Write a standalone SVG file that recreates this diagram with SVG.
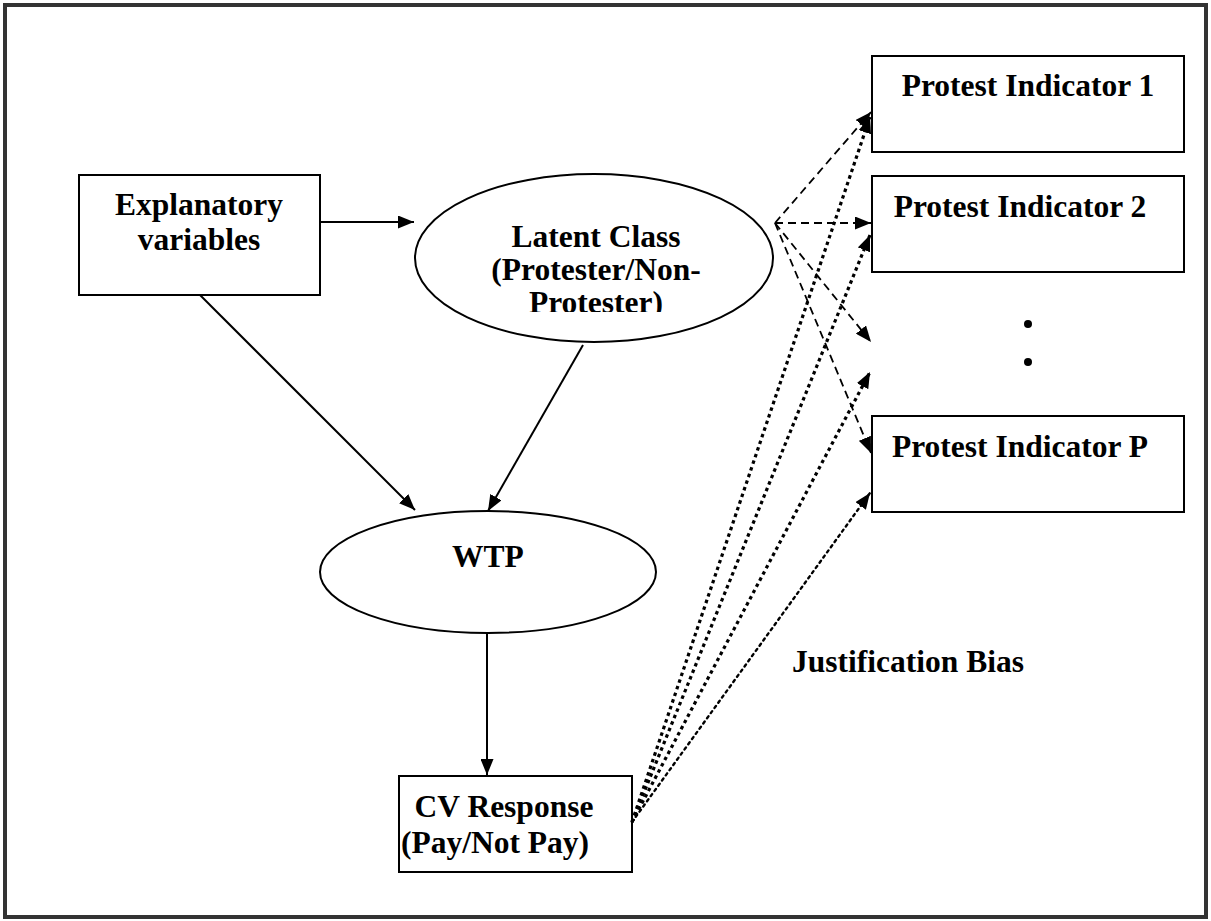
<svg xmlns="http://www.w3.org/2000/svg" width="1211" height="921" viewBox="0 0 1211 921">
<style>
.box{fill:#fff;stroke:#000;stroke-width:2}
.t{font-family:"Liberation Serif","Times New Roman",serif;font-weight:bold;font-size:31.5px;fill:#000;text-anchor:middle}
.solid{stroke:#000;stroke-width:2;fill:none}
.dash{stroke:#000;stroke-width:1.8;fill:none;stroke-dasharray:8 5}
.dot{stroke:#000;stroke-width:3.2;fill:none;stroke-dasharray:3.5 3.5}
.dot2{stroke:#000;stroke-width:2.4;fill:none;stroke-dasharray:2.4 4;stroke-linecap:round}
</style>
<defs>
<marker id="ah" viewBox="0 0 16 13" refX="16" refY="6.5" markerWidth="16" markerHeight="13" markerUnits="userSpaceOnUse" orient="auto">
<path d="M0,0 L16,6.5 L0,13 Z" fill="#000"/>
</marker>
<clipPath id="lcclip"><rect x="400" y="170" width="400" height="142"/></clipPath>
</defs>
<rect x="5" y="5" width="1201" height="912" fill="#fff" stroke="#333" stroke-width="4"/>

<g id="explanatory">
<rect class="box" x="79" y="175" width="241" height="120"/>
<text class="t" x="199" y="215">Explanatory</text>
<text class="t" x="199" y="250">variables</text>
</g>

<g id="latent">
<ellipse class="box" cx="594" cy="258" rx="179" ry="84"/>
<g clip-path="url(#lcclip)">
<text class="t" x="596" y="247">Latent Class</text>
<text class="t" x="596" y="280">(Protester/Non-</text>
<text class="t" x="596" y="313">Protester)</text>
</g>
</g>

<g id="wtp">
<ellipse class="box" cx="488" cy="572" rx="168" ry="61"/>
<text class="t" x="488" y="567">WTP</text>
</g>

<g id="cv">
<rect class="box" x="399" y="776" width="233" height="96"/>
<text class="t" x="504" y="817">CV Response</text>
<text class="t" x="495" y="853">(Pay/Not Pay)</text>
</g>

<g id="pi1">
<rect class="box" x="872" y="56" width="312" height="96"/>
<text class="t" x="1028" y="96">Protest Indicator 1</text>
</g>

<g id="pi2">
<rect class="box" x="872" y="176" width="312" height="96"/>
<text class="t" x="1020" y="217">Protest Indicator 2</text>
</g>

<g id="ellipsis">
<circle cx="1028" cy="324" r="4" fill="#000"/>
<circle cx="1028" cy="362" r="4" fill="#000"/>
</g>

<g id="pip">
<rect class="box" x="872" y="416" width="312" height="96"/>
<text class="t" x="1020" y="457">Protest Indicator P</text>
</g>

<g id="label-bias">
<text class="t" x="908" y="672">Justification Bias</text>
</g>

<g id="connectors">
<line class="solid" x1="320" y1="222" x2="414" y2="222" marker-end="url(#ah)"/>
<line class="solid" x1="200" y1="295" x2="415" y2="510" marker-end="url(#ah)"/>
<line class="solid" x1="583" y1="345" x2="488" y2="511" marker-end="url(#ah)"/>
<line class="solid" x1="487" y1="633" x2="487" y2="775" marker-end="url(#ah)"/>

<line class="dash" x1="775" y1="223" x2="871" y2="112" marker-end="url(#ah)"/>
<line class="dash" x1="775" y1="223" x2="871" y2="223" marker-end="url(#ah)"/>
<line class="dash" x1="775" y1="223" x2="871" y2="342" marker-end="url(#ah)"/>
<line class="dash" x1="775" y1="223" x2="871" y2="453" marker-end="url(#ah)"/>

<line class="dot" x1="632" y1="822" x2="870" y2="117" marker-end="url(#ah)"/>
<line class="dot" x1="632" y1="822" x2="870" y2="235" marker-end="url(#ah)"/>
<line class="dot" x1="632" y1="822" x2="870" y2="372" marker-end="url(#ah)"/>
<line class="dot2" x1="632" y1="822" x2="870" y2="493" marker-end="url(#ah)"/>
</g>
</svg>
